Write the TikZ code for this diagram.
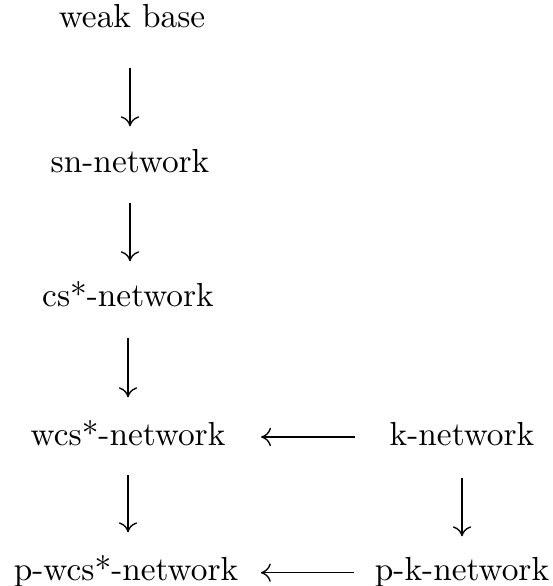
\documentclass[tikz,border=0pt]{standalone}
\usetikzlibrary{arrows.meta}
\begin{document}
\begin{tikzpicture}[x=0.3pt,y=-0.3pt,
  lbl/.style={inner sep=0pt,anchor=base,text height=7pt,text depth=2pt,font=\fontsize{10pt}{12pt}\selectfont},
  arr/.style={-{Computer Modern Rightarrow[length=3pt,width=5.5pt]},line width=0.4pt}]
\useasboundingbox (0,0) rectangle (552,586);
\node[lbl] (wb)   at (132,28)  {weak base};
\node[lbl] (sn)   at (130,173) {sn-network};
\node[lbl] (cs)   at (128,307) {cs*-network};
\node[lbl] (wcs)  at (128,445) {wcs*-network};
\node[lbl] (k)    at (462,445) {k-network};
\node[lbl] (pwcs) at (126,580) {p-wcs*-network};
\node[lbl] (pk)   at (462,580) {p-k-network};
\draw[arr,shorten <=9.7pt,shorten >=6.8pt] (sn.south |- wb.south) -- (sn.north);
\draw[arr,shorten <=6.7pt,shorten >=6.5pt] (sn.south) -- (sn.south |- cs.north);
\draw[arr,shorten <=7pt,shorten >=7.1pt] (cs.south) -- (cs.south |- wcs.north);
\draw[arr,shorten <=6.7pt,shorten >=7.1pt] (wcs.south) -- (wcs.south |- pwcs.north);
\draw[arr,shorten <=7.6pt,shorten >=5.9pt] (k.south) -- (k.south |- pk.north);
\draw[arr,shorten <=10.2pt,shorten >=10.5pt] ([yshift=2.4pt]k.base west) -- ([yshift=2.4pt]wcs.base east);
\draw[arr,shorten <=6pt,shorten >=6.6pt] ([yshift=2.2pt]pk.base west) -- ([yshift=2.2pt]pwcs.base east);
\end{tikzpicture}
\end{document}
